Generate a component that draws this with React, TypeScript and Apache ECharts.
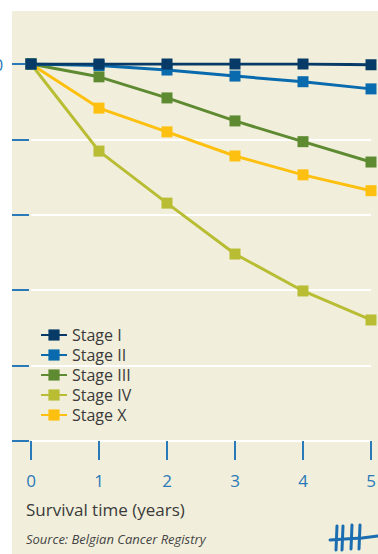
import React, { useEffect, useRef } from "react";
import * as echarts from "echarts";

const years = ["0", "1", "2", "3", "4", "5"];
const stageI = [100, 100, 100, 100, 100, 99.8];
const stageII = [100, 99.6, 98.4, 96.8, 95.3, 93.4];
const stageIII = [100, 96.6, 91.0, 84.9, 79.4, 74.0];
const stageIV = [100, 76.9, 63.1, 49.6, 39.8, 32.1];
const stageX = [100, 88.3, 82.0, 75.6, 70.6, 66.4];
const stageNames = ["Stage I", "Stage II", "Stage III", "Stage IV", "Stage X"];
const xTitle = "Survival time (years)";
const sourceText = "Source: Belgian Cancer Registry";

const COLORS = ["#073a66", "#0a6aae", "#5e8a31", "#b8bd34", "#fdc010"];
const BLUE = "#2a79b8";
const FONT = "Open Sans";

export default function App() {
  const ref = useRef<HTMLDivElement>(null);
  useEffect(() => {
    if (!ref.current) return;
    const chart = echarts.init(ref.current, undefined, { renderer: "svg" });
    const data = [stageI, stageII, stageIII, stageIV, stageX];
    const series = data
      .map((d, i) => ({
        name: stageNames[i],
        type: "line",
        data: d,
        symbol: "rect",
        symbolSize: 11,
        lineStyle: { width: 3, color: COLORS[i] },
        itemStyle: { color: COLORS[i] },
        z: 10 - i,
      }))
      .reverse();
    chart.setOption({
      animation: false,
      grid: { left: 31, right: 7, top: 64, bottom: 113, containLabel: false, outerBoundsMode: "none" },
      legend: {
        data: stageNames,
        orient: "vertical",
        left: 35,
        top: 322,
        itemWidth: 26,
        itemHeight: 14,
        itemGap: 4,
        textStyle: {
          fontFamily: FONT,
          fontSize: 16,
          lineHeight: 16,
          color: "#3a3a3a",
          padding: [0, 0, 0, 0],
        },
      },
      xAxis: {
        type: "category",
        data: years,
        boundaryGap: false,
        offset: 4,
        axisLine: { show: false },
        axisTick: { show: true, length: 19, lineStyle: { color: BLUE, width: 2 } },
        axisLabel: { color: BLUE, fontFamily: FONT, fontSize: 17, margin: 27 },
        splitLine: { show: false },
      },
      yAxis: {
        type: "value",
        min: 0,
        max: 100,
        interval: 20,
        offset: 2,
        axisLine: { show: false },
        axisTick: { show: true, length: 17, lineStyle: { color: BLUE, width: 2 } },
        axisLabel: {
          color: BLUE,
          fontFamily: FONT,
          fontSize: 17,
          align: "left",
          margin: 55,
          formatter: (v: number) => (v === 100 ? String(v) : ""),
        },
        splitLine: { show: true, lineStyle: { color: "#ffffff", width: 2 } },
      },
      graphic: [
        {
          type: "text",
          left: 26,
          top: 501,
          style: { text: xTitle, fontFamily: FONT, fontSize: 17, fill: "#3a3a3a" },
        },
        {
          type: "text",
          left: 26,
          top: 532,
          style: {
            text: sourceText,
            fontFamily: FONT,
            fontSize: 13,
            fontStyle: "italic",
            fill: "#444444",
          },
        },
        {
          type: "group",
          children: [
            { type: "line", shape: { x1: 337, y1: 526, x2: 336, y2: 550 }, style: { stroke: "#1a6db0", lineWidth: 3, lineCap: "round" } },
            { type: "line", shape: { x1: 343, y1: 526, x2: 342, y2: 550 }, style: { stroke: "#1a6db0", lineWidth: 3, lineCap: "round" } },
            { type: "line", shape: { x1: 352, y1: 525, x2: 351, y2: 549 }, style: { stroke: "#1a6db0", lineWidth: 3, lineCap: "round" } },
            { type: "line", shape: { x1: 360, y1: 525, x2: 359, y2: 549 }, style: { stroke: "#1a6db0", lineWidth: 3, lineCap: "round" } },
            {
              type: "polyline",
              shape: { points: [[330, 540], [345, 539], [362, 538], [378, 536]] },
              style: { stroke: "#1a6db0", lineWidth: 3, lineCap: "round", fill: "none" },
            },
          ],
        },
      ],
      series,
    });
    return () => chart.dispose();
  }, []);

  return (
    <div style={{ position: "fixed", left: 0, top: 0, width: 378, height: 554, background: "#ffffff", overflow: "hidden" }}>
      <div style={{ position: "absolute", left: 12, top: 11, right: 0, bottom: 0, background: "#f1efdb" }} />
      <div ref={ref} style={{ position: "absolute", left: 0, top: 0, width: 378, height: 554 }} />
    </div>
  );
}
